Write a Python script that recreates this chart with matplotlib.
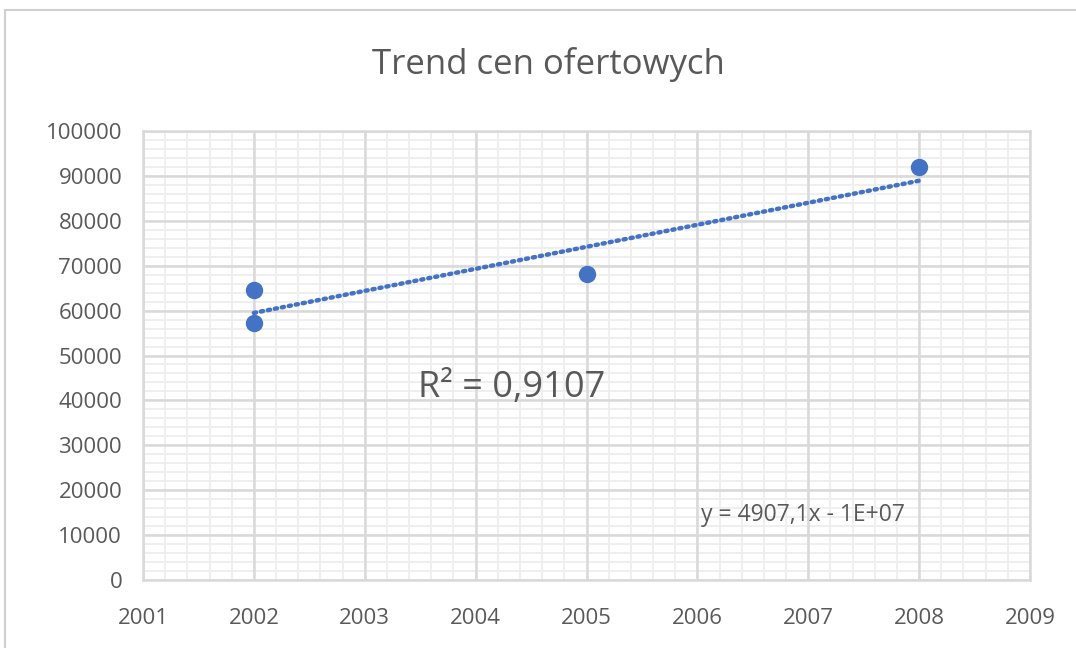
import numpy as np
import matplotlib
matplotlib.use("Agg")
import matplotlib.pyplot as plt
from matplotlib.patches import Rectangle
from matplotlib.ticker import MultipleLocator

plt.rcParams['font.family'] = ['Open Sans', 'DejaVu Sans']

# offer prices per year
years = [2002, 2002, 2005, 2008]
prices = [64600, 57300, 68200, 92000]

# trendline as reported on the chart
slope = 4907.1
r2_text = "R² = 0,9107"
eq_text = "y = 4907,1x - 1E+07"
title = "Trend cen ofertowych"

blue = '#4472c4'
grey_txt = '#595959'

fig = plt.figure(figsize=(10.76, 6.48), dpi=100)
fig.patches.append(Rectangle((5/1076, -0.1), 1.2, (648-10)/648 + 0.1,
                             transform=fig.transFigure, fill=False,
                             ec='#d0d0d0', lw=1.5))

ax = fig.add_axes([143/1076, 68/648, 887/1076, 449/648])
ax.set_xlim(2001, 2009)
ax.set_ylim(0, 100000)
ax.xaxis.set_major_locator(MultipleLocator(1))
ax.yaxis.set_major_locator(MultipleLocator(10000))

# light minor grid underneath, major grid on top of it
for v in np.arange(2001, 2009.01, 0.2):
    ax.axvline(v, color='#efefef', lw=1.4, zorder=0.1)
for v in range(0, 100001, 2000):
    ax.axhline(v, color='#efefef', lw=1.4, zorder=0.1)
ax.set_axisbelow(True)
ax.grid(which='major', color='#d9d9d9', lw=1.8)
for s in ax.spines.values():
    s.set_color('#d9d9d9')
    s.set_linewidth(1.8)
ax.tick_params(which='both', length=0, colors=grey_txt, labelsize=16)
ax.tick_params(axis='y', pad=15)
ax.tick_params(axis='x', pad=20)

# linear trend through the mean point with the reported slope
xm, ym = np.mean(years), np.mean(prices)
tx = np.array([min(years), max(years)])
ax.plot(tx, ym + slope * (tx - xm), color=blue, lw=3.2,
        linestyle=(0, (0.5, 1.1)), dash_capstyle='round', zorder=3)

ax.plot(years, prices, 'o', color=blue, ms=11.5, zorder=4)

fig.text(512/1076, 1 - 388/648, r2_text, fontsize=26,
         color=grey_txt, ha='center', va='center')
fig.text(803/1076, 1 - 515/648, eq_text, fontsize=16.5,
         color=grey_txt, ha='center', va='center')
fig.text(548/1076, 1 - 65/648, title, fontsize=25, color=grey_txt,
         ha='center', va='center')

fig.savefig('out.png', dpi=100)
